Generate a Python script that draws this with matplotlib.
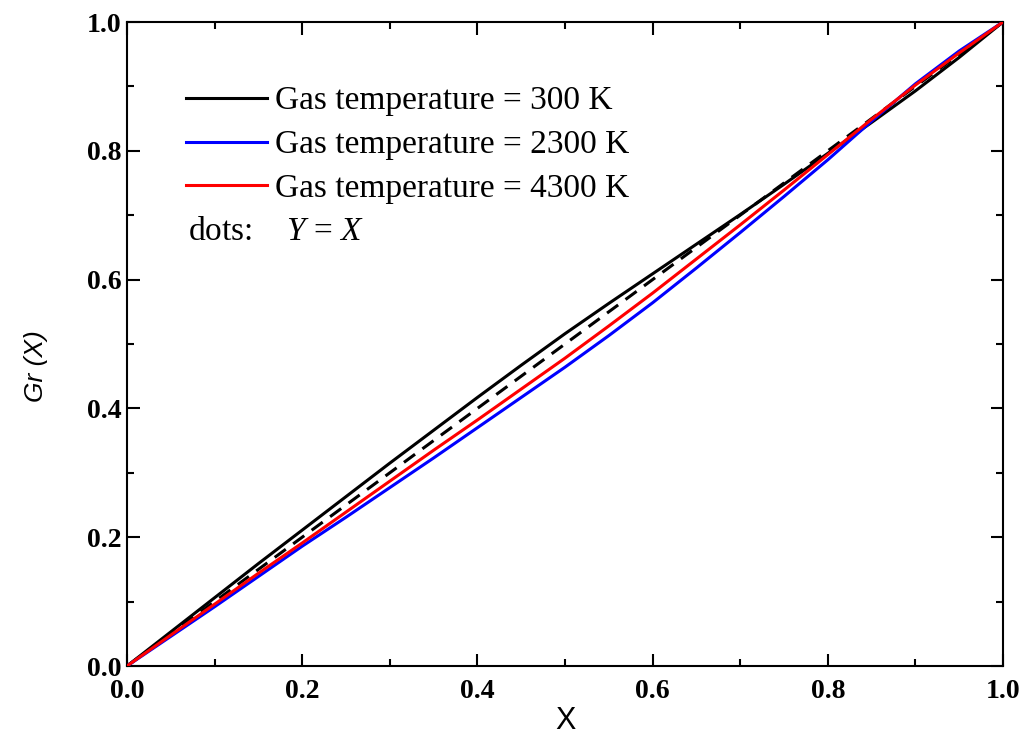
import matplotlib
matplotlib.use("Agg")
import matplotlib.pyplot as plt
from matplotlib.ticker import MultipleLocator

plt.rcParams["mathtext.fontset"] = "custom"
plt.rcParams["mathtext.it"] = "Liberation Serif:italic"
plt.rcParams["mathtext.rm"] = "Liberation Serif"

x_vals = [0.0, 0.05, 0.1, 0.15, 0.2, 0.25, 0.3, 0.35, 0.4, 0.45, 0.5,
          0.55, 0.6, 0.65, 0.7, 0.75, 0.8, 0.85, 0.9, 0.95, 1.0]
gr_300 = [0, 0.053, 0.106, 0.159, 0.211, 0.263, 0.315, 0.366, 0.417, 0.467, 0.516,
          0.563, 0.609, 0.655, 0.701, 0.748, 0.796, 0.844, 0.893, 0.945, 1.0]
gr_2300 = [0, 0.046, 0.092, 0.139, 0.186, 0.231, 0.277, 0.323, 0.370, 0.417, 0.464,
           0.513, 0.564, 0.618, 0.673, 0.729, 0.786, 0.846, 0.904, 0.955, 1.0]
gr_4300 = [0, 0.048, 0.096, 0.144, 0.191, 0.239, 0.287, 0.335, 0.382, 0.430, 0.478,
           0.528, 0.579, 0.632, 0.685, 0.739, 0.794, 0.849, 0.902, 0.952, 1.0]
diag_x = [0.0, 1.0]
diag_y = [0.0, 1.0]
labels = ["Gas temperature = 300 K", "Gas temperature = 2300 K", "Gas temperature = 4300 K"]
ticks = [0.0, 0.2, 0.4, 0.6, 0.8, 1.0]

fig = plt.figure(figsize=(10.29, 7.42), dpi=100)
ax = fig.add_axes([127/1029, 76/742, 876/1029, 644/742])

ax.plot(diag_x, diag_y, color="black", lw=2.2, ls=(0, (4.5, 3)), zorder=2)
l1, = ax.plot(x_vals, gr_300, color="black", lw=2.2, label=labels[0], zorder=3)
l2, = ax.plot(x_vals, gr_2300, color="#0000ff", lw=2.2, label=labels[1], zorder=3)
l3, = ax.plot(x_vals, gr_4300, color="#ff0000", lw=2.2, label=labels[2], zorder=3)

ax.set_xlim(0, 1)
ax.set_ylim(0, 1)
ax.set_xticks(ticks)
ax.set_yticks(ticks)
ax.xaxis.set_minor_locator(MultipleLocator(0.1))
ax.yaxis.set_minor_locator(MultipleLocator(0.1))
ax.set_xticklabels([f"{t:.1f}" for t in ticks])
ax.set_yticklabels([f"{t:.1f}" for t in ticks])
ax.tick_params(which="both", direction="in", top=True, right=True, width=1.5)
ax.tick_params(which="major", length=9)
ax.tick_params(which="minor", length=5)
ax.tick_params(axis="x", which="major", pad=9)
ax.tick_params(axis="y", which="major", pad=4)
for lab in ax.get_xticklabels() + ax.get_yticklabels():
    lab.set_fontfamily("Liberation Serif")
    lab.set_fontweight("bold")
    lab.set_fontsize(20)
for sp in ax.spines.values():
    sp.set_linewidth(1.5)

ax.set_xlabel("X", fontfamily="Liberation Sans", fontsize=22)
ax.xaxis.set_label_coords(0.5, -(706-666)/644)
ax.set_ylabel("Gr (X)", fontfamily="Liberation Sans", fontstyle="italic", fontsize=19)
ax.yaxis.set_label_coords((48-127)/876, 1-(366-22)/644)

leg = ax.legend(handles=[l1, l2, l3], loc="upper left",
                bbox_to_anchor=((186-127)/876, 1-(86-22)/644),
                frameon=False, prop={"family": "Liberation Serif", "size": 24},
                handlelength=2.43, handletextpad=0.24, labelspacing=0.40, borderpad=0,
                borderaxespad=0)
ax.text((188-127)/876, 1-(232-22)/644, "dots:    $Y$ = $X$", transform=ax.transAxes,
        fontfamily="Liberation Serif", fontsize=24, va="center", ha="left")

fig.savefig("out.png", dpi=100)
